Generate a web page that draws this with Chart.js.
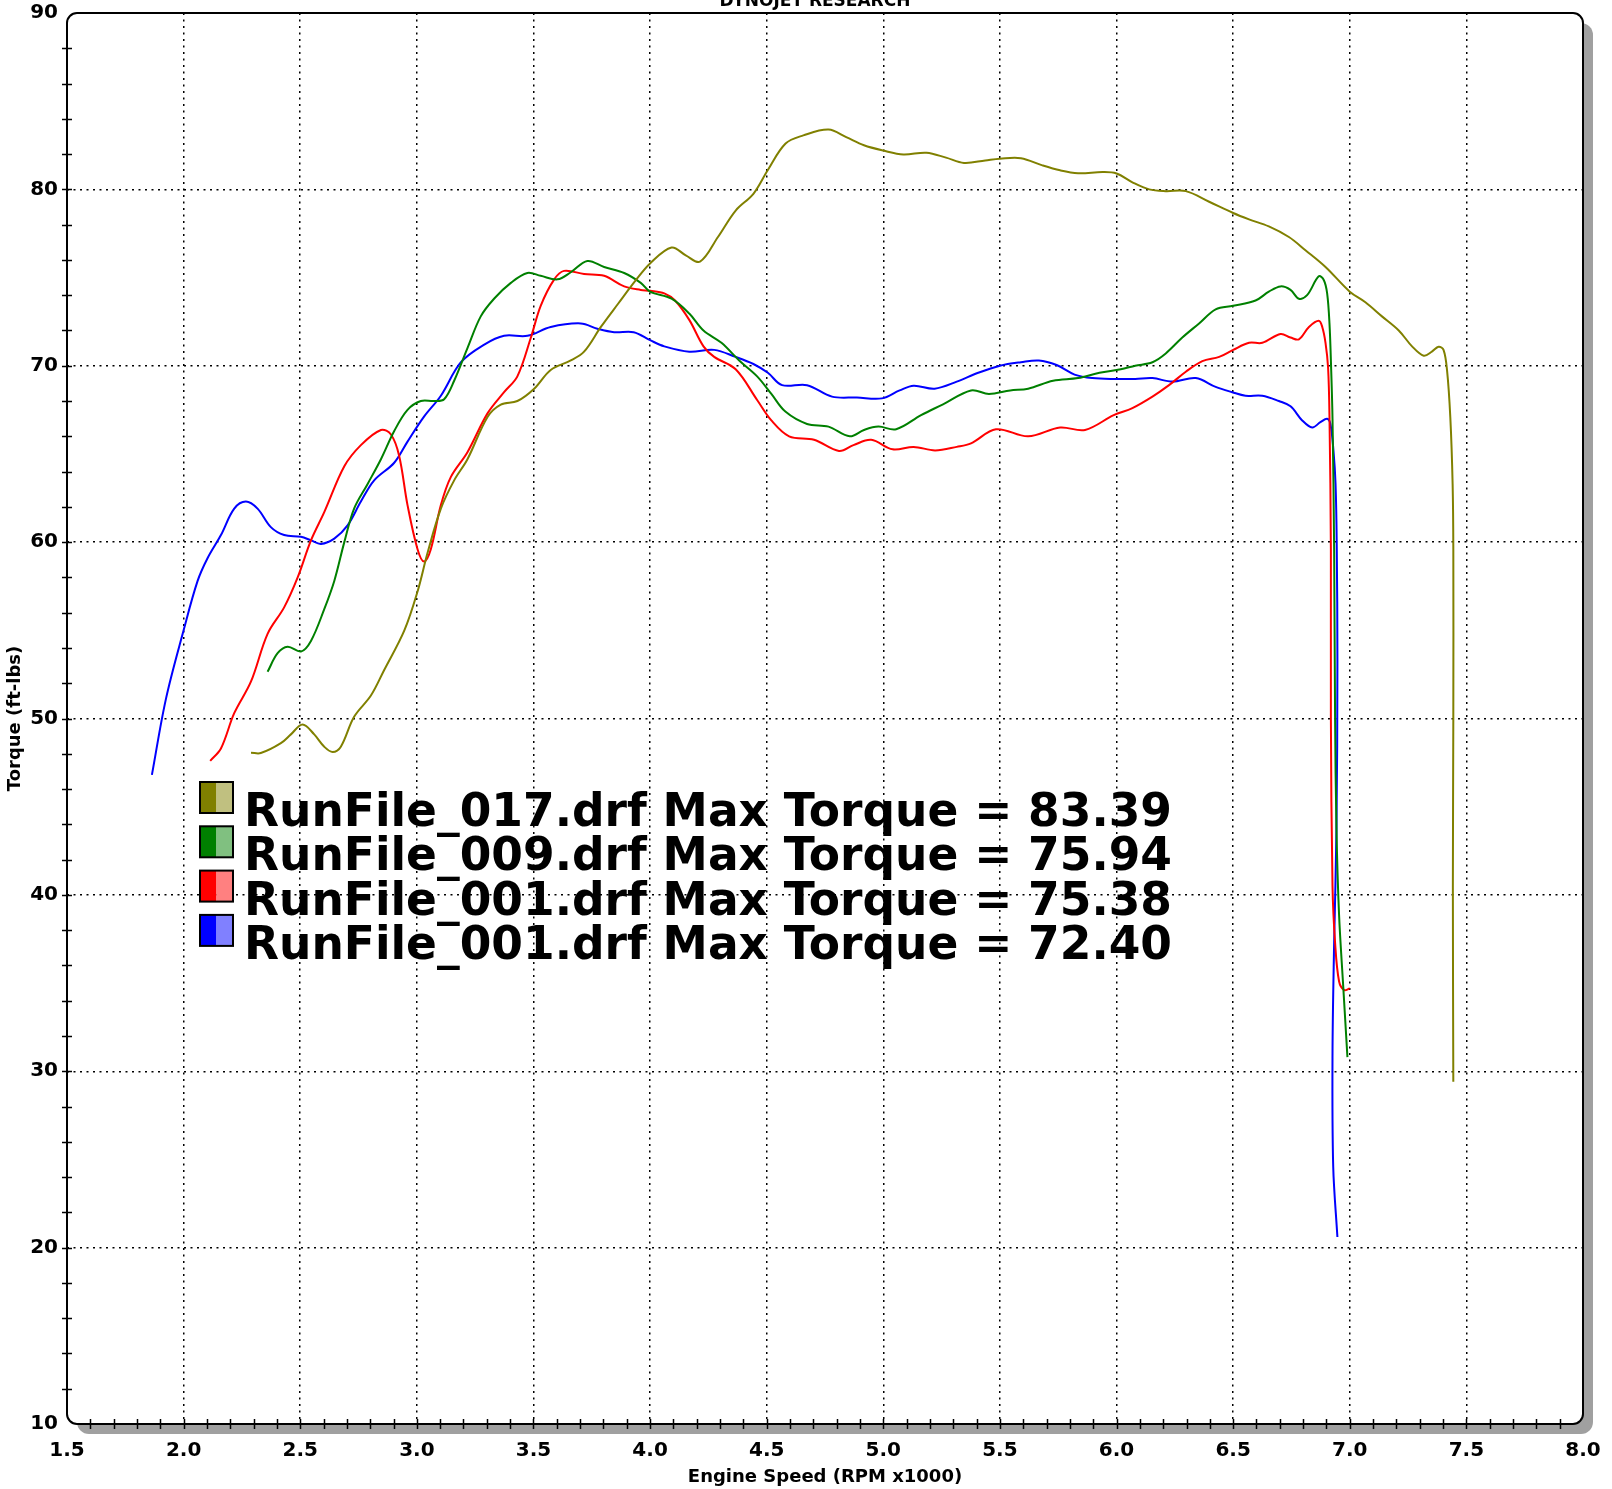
<!DOCTYPE html>
<html>
<head>
<meta charset="utf-8">
<title>Dynojet Torque</title>
<script src="https://cdn.jsdelivr.net/npm/chart.js@4.4.1/dist/chart.umd.min.js"></script>
<style>
  html, body { margin: 0; padding: 0; background: #fff; }
</style>
</head>
<body>
<canvas id="dynoChart" width="1612" height="1489"></canvas>
<script>
// Axis ticks
const xTicks = [1.5, 2.0, 2.5, 3.0, 3.5, 4.0, 4.5, 5.0, 5.5, 6.0, 6.5, 7.0, 7.5, 8.0];
const yTicks = [10, 20, 30, 40, 50, 60, 70, 80, 90];

// Legend
const runNames = ['RunFile_017.drf', 'RunFile_009.drf', 'RunFile_001.drf', 'RunFile_001.drf'];
const maxTorque = ['83.39', '75.94', '75.38', '72.40'];
const darkColors = ['#808000', '#008000', '#ff0000', '#0000ff'];
const lightColors = ['#c0c080', '#80c080', '#ff8080', '#8080ff'];

// RunFile_017 (olive)
const rpmO = [2.289, 2.331, 2.417, 2.46, 2.51, 2.56, 2.603, 2.639, 2.674, 2.731, 2.803, 2.86, 2.946, 3.003, 3.046, 3.103, 3.16, 3.217, 3.303, 3.36,
  3.431, 3.503, 3.574, 3.66, 3.717, 3.789, 3.862, 3.939, 4.0, 4.092, 4.153, 4.214, 4.291, 4.367, 4.443, 4.505, 4.581, 4.657, 4.765, 4.841,
  4.917, 5.0, 5.086, 5.185, 5.269, 5.346, 5.437, 5.5, 5.59, 5.682, 5.758, 5.835, 5.942, 6.0, 6.068, 6.14, 6.211, 6.297, 6.397, 6.5,
  6.568, 6.653, 6.739, 6.81, 6.896, 7.0, 7.067, 7.138, 7.21, 7.267, 7.317, 7.352, 7.381, 7.402, 7.417, 7.431, 7.441, 7.444, 7.444, 7.442, 7.444];
const tqO = [48.06, 48.04, 48.6, 49.1, 49.66, 49.1, 48.4, 48.1, 48.4, 50.1, 51.3, 52.75, 54.98, 57.2, 59.4, 61.9, 63.5, 64.7, 67.1, 67.8,
  68.0, 68.7, 69.76, 70.3, 70.8, 72.2, 73.5, 74.85, 75.8, 76.7, 76.26, 75.9, 77.3, 78.8, 79.75, 81.1, 82.6, 83.06, 83.39, 82.96,
  82.5, 82.2, 81.98, 82.08, 81.8, 81.5, 81.64, 81.74, 81.77, 81.36, 81.08, 80.92, 80.98, 80.9, 80.4, 80.0, 79.9, 79.9, 79.3, 78.66,
  78.3, 77.9, 77.3, 76.55, 75.6, 74.2, 73.6, 72.8, 72.0, 71.1, 70.57, 70.8, 71.08, 70.9, 69.75, 67.1, 63.3, 59.6, 50.1, 40.5, 29.4];

// RunFile_009 (green)
const rpmG = [2.36, 2.403, 2.446, 2.503, 2.546, 2.603, 2.646, 2.689, 2.731, 2.789, 2.846, 2.903, 2.96, 3.017, 3.074, 3.117, 3.16, 3.217, 3.274, 3.331,
  3.403, 3.474, 3.531, 3.603, 3.66, 3.731, 3.803, 3.889, 3.96, 4.0, 4.092, 4.168, 4.229, 4.306, 4.382, 4.459, 4.52, 4.58, 4.673, 4.765,
  4.856, 4.917, 4.979, 5.055, 5.162, 5.254, 5.376, 5.453, 5.544, 5.621, 5.728, 5.835, 5.927, 6.018, 6.08, 6.154, 6.211, 6.282, 6.354, 6.425,
  6.5, 6.596, 6.653, 6.703, 6.746, 6.782, 6.817, 6.867, 6.889, 6.903, 6.913, 6.92, 6.926, 6.933, 6.937, 6.943, 6.954, 6.972, 6.99];
const tqG = [52.65, 53.7, 54.07, 53.8, 54.4, 56.2, 57.8, 60.0, 61.9, 63.3, 64.7, 66.3, 67.5, 68.0, 68.0, 68.1, 69.15, 71.0, 72.8, 73.8,
  74.7, 75.26, 75.1, 74.9, 75.3, 75.94, 75.6, 75.26, 74.7, 74.2, 73.8, 72.96, 72.0, 71.3, 70.3, 69.4, 68.4, 67.4, 66.7, 66.55,
  66.0, 66.36, 66.55, 66.4, 67.2, 67.8, 68.6, 68.4, 68.6, 68.7, 69.15, 69.3, 69.6, 69.8, 70.0, 70.2, 70.7, 71.6, 72.4, 73.2,
  73.4, 73.7, 74.2, 74.5, 74.3, 73.8, 74.0, 75.07, 74.85, 74.1, 72.4, 69.9, 67.0, 59.6, 50.1, 43.7, 38.9, 34.8, 30.8];

// RunFile_001 (red)
const rpmR = [2.114, 2.16, 2.217, 2.289, 2.36, 2.431, 2.489, 2.546, 2.603, 2.689, 2.76, 2.846, 2.889, 2.924, 2.96, 3.003, 3.031, 3.06, 3.103, 3.146,
  3.217, 3.303, 3.374, 3.431, 3.489, 3.531, 3.589, 3.631, 3.717, 3.803, 3.889, 3.96, 4.0, 4.061, 4.107, 4.168, 4.229, 4.275, 4.367, 4.459,
  4.52, 4.596, 4.703, 4.81, 4.872, 4.948, 5.04, 5.13, 5.222, 5.315, 5.376, 5.483, 5.621, 5.758, 5.865, 5.988, 6.068, 6.154, 6.225, 6.297,
  6.368, 6.44, 6.5, 6.568, 6.625, 6.703, 6.746, 6.782, 6.825, 6.867, 6.882, 6.896, 6.907, 6.913, 6.919, 6.919, 6.926, 6.937, 6.954, 6.976, 7.0];
const tqR = [47.6, 48.3, 50.3, 52.1, 54.8, 56.3, 58.0, 60.1, 61.7, 64.3, 65.5, 66.36, 66.1, 64.9, 62.1, 59.6, 58.9, 59.6, 62.1, 63.7,
  65.1, 67.3, 68.5, 69.4, 71.6, 73.4, 74.9, 75.38, 75.2, 75.1, 74.5, 74.3, 74.25, 74.1, 73.7, 72.6, 71.1, 70.5, 69.8, 68.06,
  66.9, 66.0, 65.8, 65.17, 65.5, 65.8, 65.26, 65.4, 65.2, 65.4, 65.6, 66.4, 66.0, 66.5, 66.36, 67.2, 67.6, 68.25, 68.9, 69.66,
  70.26, 70.5, 70.9, 71.3, 71.3, 71.8, 71.6, 71.5, 72.2, 72.55, 72.2, 71.3, 69.9, 67.1, 59.6, 50.1, 40.5, 37.3, 35.1, 34.6, 34.7];

// RunFile_001 (blue)
const rpmB = [1.864, 1.924, 2.0, 2.06, 2.103, 2.16, 2.217, 2.267, 2.317, 2.374, 2.431, 2.503, 2.546, 2.589, 2.646, 2.703, 2.76, 2.817, 2.903, 2.96,
  3.03, 3.103, 3.189, 3.289, 3.374, 3.474, 3.574, 3.703, 3.774, 3.846, 3.93, 4.0, 4.061, 4.168, 4.275, 4.367, 4.443, 4.505, 4.566, 4.673,
  4.78, 4.887, 4.994, 5.07, 5.13, 5.22, 5.315, 5.407, 5.5, 5.59, 5.667, 5.743, 5.82, 5.896, 6.0, 6.08, 6.154, 6.24, 6.34, 6.425,
  6.496, 6.553, 6.625, 6.696, 6.746, 6.796, 6.839, 6.874, 6.903, 6.917, 6.93, 6.939, 6.944, 6.947, 6.943, 6.933, 6.926, 6.929, 6.947];
const tqB = [46.8, 51.1, 55.0, 57.8, 59.1, 60.4, 61.9, 62.3, 61.9, 60.85, 60.4, 60.3, 60.1, 59.9, 60.2, 60.95, 62.3, 63.5, 64.5, 65.7,
  67.1, 68.3, 70.2, 71.2, 71.7, 71.7, 72.2, 72.4, 72.1, 71.9, 71.9, 71.45, 71.1, 70.8, 70.9, 70.5, 70.1, 69.6, 68.9, 68.9,
  68.25, 68.2, 68.15, 68.6, 68.87, 68.7, 69.1, 69.6, 70.0, 70.2, 70.3, 70.04, 69.5, 69.3, 69.25, 69.25, 69.3, 69.1, 69.3, 68.8,
  68.5, 68.3, 68.3, 68.0, 67.7, 66.9, 66.5, 66.8, 67.0, 66.7, 65.2, 63.3, 60.0, 53.2, 43.7, 37.3, 31.0, 24.6, 20.6];

const FONT = '"DejaVu Sans", Verdana, sans-serif';

function toPoints(xs, ys) {
  return xs.map((x, i) => ({ x: x, y: ys[i] }));
}

function roundRectPath(ctx, x, y, w, h, r) {
  ctx.beginPath();
  ctx.moveTo(x + r, y);
  ctx.lineTo(x + w - r, y);
  ctx.arcTo(x + w, y, x + w, y + r, r);
  ctx.lineTo(x + w, y + h - r);
  ctx.arcTo(x + w, y + h, x + w - r, y + h, r);
  ctx.lineTo(x + r, y + h);
  ctx.arcTo(x, y + h, x, y + h - r, r);
  ctx.lineTo(x, y + r);
  ctx.arcTo(x, y, x + r, y, r);
  ctx.closePath();
}

// frame, shadow, minor ticks, legend and header
const dynoFrame = {
  id: 'dynoFrame',
  beforeDraw(chart) {
    const ctx = chart.ctx;
    const a = chart.chartArea;
    ctx.save();
    ctx.fillStyle = '#fff';
    ctx.fillRect(0, 0, chart.width, chart.height);
    ctx.fillStyle = '#a0a0a0';
    roundRectPath(ctx, a.left + 10, a.top + 10, a.right - a.left, a.bottom - a.top, 12);
    ctx.fill();
    ctx.fillStyle = '#fff';
    roundRectPath(ctx, a.left, a.top, a.right - a.left, a.bottom - a.top, 10);
    ctx.fill();
    ctx.restore();
  },
  afterDraw(chart) {
    const ctx = chart.ctx;
    const a = chart.chartArea;
    const xs = chart.scales.x;
    const ys = chart.scales.y;
    ctx.save();

    // frame
    ctx.strokeStyle = '#000';
    ctx.lineWidth = 2;
    roundRectPath(ctx, a.left, a.top, a.right - a.left, a.bottom - a.top, 10);
    ctx.stroke();

    // minor ticks crossing the axes
    ctx.lineWidth = 1.5;
    ctx.beginPath();
    for (let i = 16; i <= 79; i++) {
      const px = Math.round(xs.getPixelForValue(i / 10)) + 0.5;
      ctx.moveTo(px, a.bottom - 5);
      ctx.lineTo(px, a.bottom + 5);
    }
    for (let v = 12; v <= 88; v += 2) {
      const py = Math.round(ys.getPixelForValue(v)) + 0.5;
      ctx.moveTo(a.left - 5, py);
      ctx.lineTo(a.left + 5, py);
    }
    ctx.stroke();

    // legend
    ctx.font = 'bold 45.5px ' + FONT;
    ctx.textAlign = 'left';
    ctx.textBaseline = 'alphabetic';
    for (let i = 0; i < runNames.length; i++) {
      const base = 826 + i * 44.3;
      const bx = 200, by = base - 44, bw = 33, bh = 31;
      ctx.fillStyle = darkColors[i];
      ctx.fillRect(bx, by, bw / 2, bh);
      ctx.fillStyle = lightColors[i];
      ctx.fillRect(bx + bw / 2, by, bw / 2, bh);
      ctx.lineWidth = 2;
      ctx.strokeStyle = '#000';
      ctx.strokeRect(bx, by, bw, bh);
      ctx.fillStyle = '#000';
      ctx.fillText(runNames[i] + ' Max Torque = ' + maxTorque[i], 244, base);
    }

    // header, cut off at the top edge
    ctx.font = 'bold 17px ' + FONT;
    ctx.textAlign = 'center';
    ctx.fillText('DYNOJET RESEARCH', 815, 6);
    ctx.restore();
  }
};

const ctx = document.getElementById('dynoChart');
const dynoChart = new Chart(ctx, {
  type: 'line',
  data: {
    datasets: [
      { label: runNames[0], data: toPoints(rpmO, tqO), borderColor: darkColors[0] },
      { label: runNames[1], data: toPoints(rpmG, tqG), borderColor: darkColors[1] },
      { label: runNames[2], data: toPoints(rpmR, tqR), borderColor: darkColors[2] },
      { label: runNames[3], data: toPoints(rpmB, tqB), borderColor: darkColors[3] }
    ]
  },
  options: {
    responsive: false,
    animation: false,
    layout: { padding: { left: 0, top: 13, right: 29, bottom: 0 } },
    elements: {
      point: { radius: 0 },
      line: { borderWidth: 2, tension: 0.35, fill: false }
    },
    plugins: {
      legend: { display: false },
      tooltip: { enabled: false }
    },
    scales: {
      x: {
        type: 'linear',
        min: 1.5,
        max: 8.0,
        afterFit: (s) => { s.height = 65; s.paddingLeft = 0; s.paddingRight = 0; },
        afterBuildTicks: (s) => { s.ticks = xTicks.map(v => ({ value: v })); },
        ticks: {
          callback: (v) => Number(v).toFixed(1),
          font: { family: FONT, size: 20, weight: 'bold' },
          color: '#000',
          padding: 15,
          maxRotation: 0,
          autoSkip: false
        },
        grid: {
          color: (c) => (c.tick && (c.tick.value === 1.5 || c.tick.value === 8.0)) ? 'rgba(0,0,0,0)' : '#000',
          lineWidth: 1.5,
          drawTicks: false
        },
        border: { display: false, dash: [2, 4.5] },
        title: {
          display: true,
          text: 'Engine Speed (RPM x1000)',
          font: { family: FONT, size: 18, weight: 'bold' },
          color: '#000',
          padding: { top: 0, bottom: 1 }
        }
      },
      y: {
        min: 10,
        max: 90,
        afterFit: (s) => { s.width = 67; s.paddingTop = 0; s.paddingBottom = 0; },
        afterBuildTicks: (s) => { s.ticks = yTicks.map(v => ({ value: v })); },
        ticks: {
          font: { family: FONT, size: 20, weight: 'bold' },
          color: '#000',
          padding: 9
        },
        grid: {
          color: (c) => (c.tick && (c.tick.value === 10 || c.tick.value === 90)) ? 'rgba(0,0,0,0)' : '#000',
          lineWidth: 1.5,
          drawTicks: false
        },
        border: { display: false, dash: [2, 4.5] },
        title: {
          display: true,
          text: 'Torque (ft-lbs)',
          font: { family: FONT, size: 18, weight: 'bold' },
          color: '#000',
          padding: { top: 5, bottom: 0 }
        }
      }
    }
  },
  plugins: [dynoFrame]
});
</script>
</body>
</html>
